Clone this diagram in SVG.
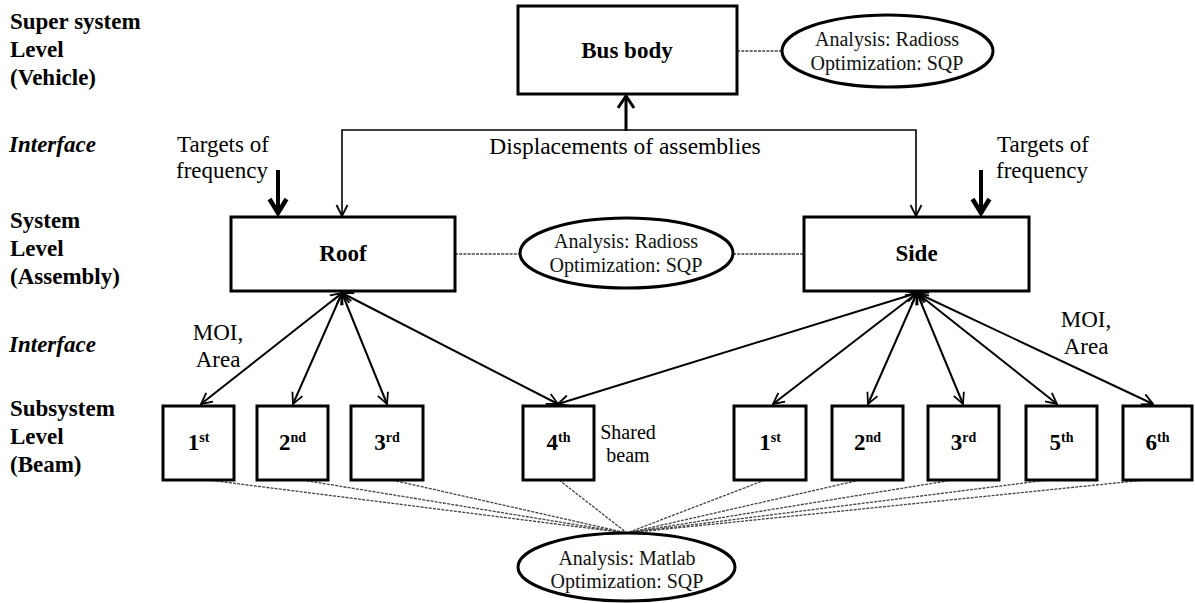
<svg xmlns="http://www.w3.org/2000/svg" width="1195" height="603" viewBox="0 0 1195 603">
<style>
  .lbl{font-family:"Liberation Serif","Times New Roman",serif;font-size:23px;font-weight:bold;fill:#000}
  .ital{font-style:italic}
  .box{fill:#fff;stroke:#000;stroke-width:3}
  .ell{fill:#fff;stroke:#000;stroke-width:3}
  .bt{font-family:"Liberation Serif","Times New Roman",serif;font-size:23px;font-weight:bold;text-anchor:middle;fill:#000}
  .et{font-family:"Liberation Serif","Times New Roman",serif;font-size:20px;text-anchor:middle;fill:#111}
  .tx{font-family:"Liberation Serif","Times New Roman",serif;font-size:23px;fill:#000}
  .sup{font-size:14px}
  .dash{fill:none;stroke:#444;stroke-width:1.3;stroke-dasharray:3 1.2}
  .arr{fill:none;stroke:#000;stroke-width:2;marker-start:url(#hThin);marker-end:url(#hThin)}
</style>
<defs>
  <marker id="hThin" markerUnits="userSpaceOnUse" markerWidth="14" markerHeight="14" viewBox="0 0 14 14" refX="13" refY="7" orient="auto-start-reverse">
    <path d="M2,1.5 L13,7 L2,12.5" fill="none" stroke="#000" stroke-width="1.8"/>
  </marker>
  <marker id="hBig" markerUnits="userSpaceOnUse" markerWidth="18" markerHeight="18" viewBox="0 0 18 18" refX="14" refY="9" orient="auto-start-reverse">
    <path d="M2,1 L14,9 L2,17" fill="none" stroke="#000" stroke-width="3"/>
  </marker>
  <marker id="hThick" markerUnits="userSpaceOnUse" markerWidth="22" markerHeight="24" viewBox="0 0 22 24" refX="16" refY="12" orient="auto">
    <path d="M3,3.5 L17,12 L3,20.5" fill="none" stroke="#000" stroke-width="4.5"/>
  </marker>
</defs>
<rect width="1195" height="603" fill="#fff"/>

<g id="level-labels">
  <text class="lbl" x="10" y="29">Super system</text>
  <text class="lbl" x="10" y="57">Level</text>
  <text class="lbl" x="10" y="85">(Vehicle)</text>
  <text class="lbl ital" x="9" y="152">Interface</text>
  <text class="lbl" x="10" y="228">System</text>
  <text class="lbl" x="10" y="256">Level</text>
  <text class="lbl" x="10" y="284">(Assembly)</text>
  <text class="lbl ital" x="9" y="352">Interface</text>
  <text class="lbl" x="10" y="416">Subsystem</text>
  <text class="lbl" x="10" y="444">Level</text>
  <text class="lbl" x="10" y="472">(Beam)</text>
</g>

<g id="connectors">
  <line class="dash" x1="737" y1="51" x2="782" y2="51"/>
  <line class="dash" x1="455" y1="254" x2="520" y2="254"/>
  <line class="dash" x1="733" y1="254" x2="804" y2="254"/>
  <line class="dash" x1="208" y1="480" x2="627" y2="533"/>
  <line class="dash" x1="302" y1="480" x2="627" y2="533"/>
  <line class="dash" x1="392" y1="480" x2="627" y2="533"/>
  <line class="dash" x1="559" y1="480" x2="627" y2="533"/>
  <line class="dash" x1="765" y1="480" x2="627" y2="533"/>
  <line class="dash" x1="860" y1="480" x2="627" y2="533"/>
  <line class="dash" x1="953" y1="480" x2="627" y2="533"/>
  <line class="dash" x1="1048" y1="480" x2="627" y2="533"/>
  <line class="dash" x1="1145" y1="480" x2="627" y2="533"/>
  <path d="M342,216 L342,130 L916,130 L916,216" fill="none" stroke="#000" stroke-width="1.6" marker-start="url(#hThin)" marker-end="url(#hThin)"/>
  <line x1="626" y1="131" x2="626" y2="96" stroke="#000" stroke-width="3" marker-end="url(#hBig)"/>
  <line x1="278" y1="170" x2="278" y2="212" stroke="#000" stroke-width="4" marker-end="url(#hThick)"/>
  <line x1="981" y1="170" x2="981" y2="212" stroke="#000" stroke-width="4" marker-end="url(#hThick)"/>
  <line class="arr" x1="342" y1="293" x2="201" y2="404"/>
  <line class="arr" x1="342" y1="293" x2="293" y2="404"/>
  <line class="arr" x1="342" y1="293" x2="387" y2="404"/>
  <line class="arr" x1="342" y1="293" x2="558" y2="404"/>
  <line class="arr" x1="917" y1="293" x2="558" y2="404"/>
  <line class="arr" x1="917" y1="293" x2="773" y2="404"/>
  <line class="arr" x1="917" y1="293" x2="868" y2="404"/>
  <line class="arr" x1="917" y1="293" x2="963" y2="404"/>
  <line class="arr" x1="917" y1="293" x2="1057" y2="404"/>
  <line class="arr" x1="917" y1="293" x2="1153" y2="404"/>
</g>

<g id="connector-labels">
  <text class="tx" x="625" y="154" text-anchor="middle" style="font-size:23.5px">Displacements of assemblies</text>
  <text class="tx" x="177" y="152">Targets of</text>
  <text class="tx" x="176" y="178">frequency</text>
  <text class="tx" x="997" y="152">Targets of</text>
  <text class="tx" x="996" y="178">frequency</text>
  <text class="tx" x="218" y="340" text-anchor="middle">MOI,</text>
  <text class="tx" x="218" y="367" text-anchor="middle">Area</text>
  <text class="tx" x="1086" y="327" text-anchor="middle">MOI,</text>
  <text class="tx" x="1086" y="354" text-anchor="middle">Area</text>
  <text class="tx" x="628" y="439" text-anchor="middle" style="font-size:20px">Shared</text>
  <text class="tx" x="628" y="462" text-anchor="middle" style="font-size:20px">beam</text>
</g>

<g id="bus-body">
  <rect class="box" x="518" y="6" width="219" height="88"/>
  <text class="bt" x="627" y="58">Bus body</text>
</g>
<g id="ellipse-vehicle">
  <ellipse class="ell" cx="887.5" cy="51" rx="105.5" ry="36"/>
  <text class="et" x="887" y="46">Analysis: Radioss</text>
  <text class="et" x="887" y="70">Optimization: SQP</text>
</g>
<g id="roof">
  <rect class="box" x="231" y="217" width="224" height="74"/>
  <text class="bt" x="343" y="261">Roof</text>
</g>
<g id="ellipse-assembly">
  <ellipse class="ell" cx="626.5" cy="253" rx="106.5" ry="35"/>
  <text class="et" x="626" y="248">Analysis: Radioss</text>
  <text class="et" x="626" y="272">Optimization: SQP</text>
</g>
<g id="side">
  <rect class="box" x="804" y="217" width="225" height="74"/>
  <text class="bt" x="916.5" y="261">Side</text>
</g>

<g id="roof-beam-1">
  <rect class="box" x="163" y="406" width="71" height="74"/>
  <text class="bt" x="198.5" y="450">1<tspan class="sup" dy="-8">st</tspan></text>
</g>
<g id="roof-beam-2">
  <rect class="box" x="257" y="406" width="71" height="74"/>
  <text class="bt" x="292.5" y="450">2<tspan class="sup" dy="-8">nd</tspan></text>
</g>
<g id="roof-beam-3">
  <rect class="box" x="351" y="406" width="72" height="74"/>
  <text class="bt" x="387" y="450">3<tspan class="sup" dy="-8">rd</tspan></text>
</g>
<g id="shared-beam-4">
  <rect class="box" x="523" y="406" width="71" height="74"/>
  <text class="bt" x="558.5" y="450">4<tspan class="sup" dy="-8">th</tspan></text>
</g>
<g id="side-beam-1">
  <rect class="box" x="734" y="406" width="72" height="74"/>
  <text class="bt" x="770" y="450">1<tspan class="sup" dy="-8">st</tspan></text>
</g>
<g id="side-beam-2">
  <rect class="box" x="832" y="406" width="71" height="74"/>
  <text class="bt" x="867.5" y="450">2<tspan class="sup" dy="-8">nd</tspan></text>
</g>
<g id="side-beam-3">
  <rect class="box" x="928" y="406" width="71" height="74"/>
  <text class="bt" x="963.5" y="450">3<tspan class="sup" dy="-8">rd</tspan></text>
</g>
<g id="side-beam-5">
  <rect class="box" x="1026" y="406" width="71" height="74"/>
  <text class="bt" x="1061.5" y="450">5<tspan class="sup" dy="-8">th</tspan></text>
</g>
<g id="side-beam-6">
  <rect class="box" x="1123" y="406" width="69" height="74"/>
  <text class="bt" x="1157.5" y="450">6<tspan class="sup" dy="-8">th</tspan></text>
</g>

<g id="ellipse-beam">
  <ellipse class="ell" cx="626.5" cy="567" rx="108.5" ry="34"/>
  <text class="et" x="627" y="565">Analysis: Matlab</text>
  <text class="et" x="627" y="588">Optimization: SQP</text>
</g>
</svg>
